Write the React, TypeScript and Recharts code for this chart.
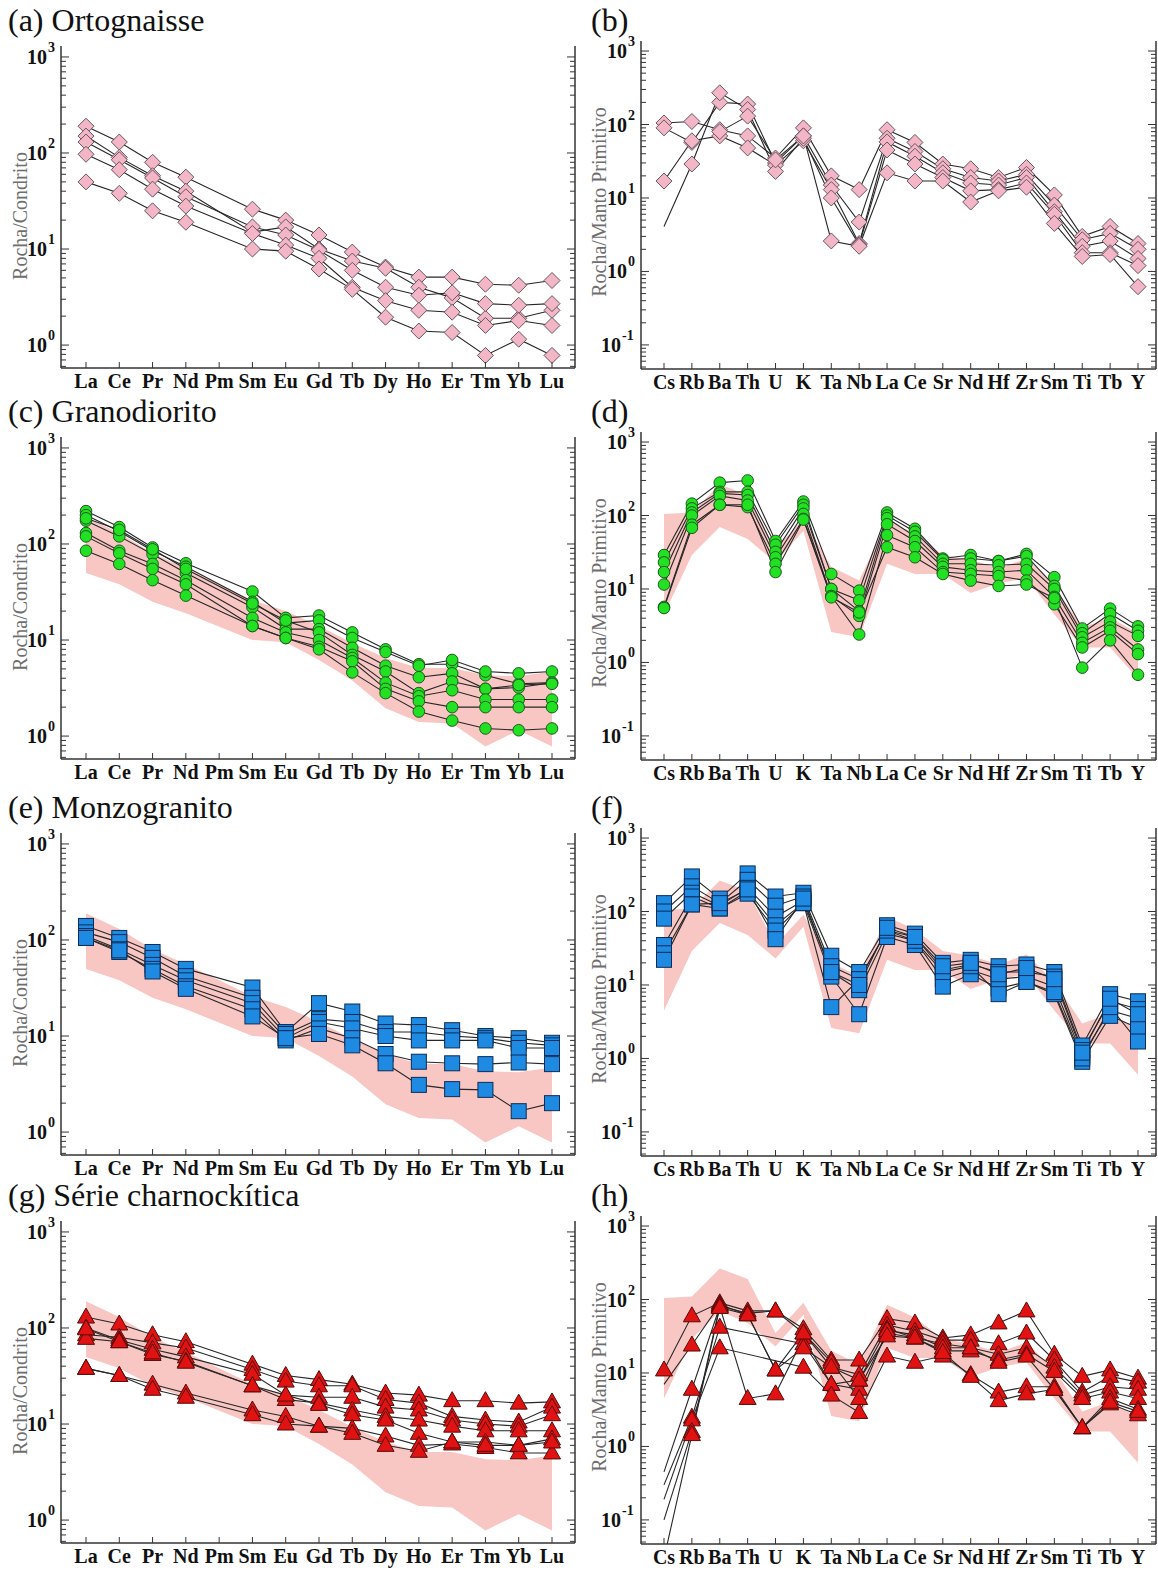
import React from 'react';
import { ComposedChart, Line, Area, XAxis, YAxis } from 'recharts';

const SERIF = "'Liberation Serif', 'Times New Roman', Times, serif";

const REE = ['La', 'Ce', 'Pr', 'Nd', 'Pm', 'Sm', 'Eu', 'Gd', 'Tb', 'Dy', 'Ho', 'Er', 'Tm', 'Yb', 'Lu'];
const SPIDER = ['Cs', 'Rb', 'Ba', 'Th', 'U', 'K', 'Ta', 'Nb', 'La', 'Ce', 'Sr', 'Nd', 'Hf', 'Zr', 'Sm', 'Ti', 'Tb', 'Y'];

const REE_TICKS = [0.6, 0.7, 0.8, 0.9, 1, 2, 3, 4, 5, 6, 7, 8, 9, 10, 20, 30, 40, 50, 60, 70, 80, 90, 100, 200, 300, 400, 500, 600, 700, 800, 900, 1000];
const SPIDER_TICKS = [0.05, 0.06, 0.07, 0.08, 0.09, 0.1, 0.2, 0.3, 0.4, 0.5, 0.6, 0.7, 0.8, 0.9, 1, 2, 3, 4, 5, 6, 7, 8, 9, 10, 20, 30, 40, 50, 60, 70, 80, 90, 100, 200, 300, 400, 500, 600, 700, 800, 900, 1000];

// pink field = range of the ortognaisse samples
const reeFieldHi = [190, 130, 80, 56, null, 26, 20, 14, 9.3, 6.5, 5.1, 5.1, 4.3, 4.2, 4.7];
const reeFieldLo = [50, 38, 25, 19, null, 10, 9.5, 6.2, 3.8, 1.95, 1.4, 1.35, 0.78, 1.15, 0.78];
const spiderFieldHi = [105, 110, 265, 190, 35, 90, 20, 13, 85, 57, 29, 25, 19, 26, 11, 3.0, 4.1, 2.5];
const spiderFieldLo = [4.5, 29, 70, 48, 23, 62, 2.6, 2.2, 22, 16, 16, 8.8, 12, 14, 4.5, 1.6, 1.6, 0.6];

// (a) Ortognaisse
const ortoREE = [
  [190, 130, 80, 56, null, 26, 20, 14, 9.3, 6.5, 5.1, 5.1, 4.3, 4.2, 4.7],
  [150, 90, 58, 40, null, 15, 17, 10, 7.5, 6.3, 4.0, 3.1, 1.9, 1.9, 2.3],
  [130, 85, 55, 35, null, 17, 14, 9.7, 6.0, 4.0, 3.3, 3.5, 2.7, 2.6, 2.7],
  [97, 67, 42, 28, null, 14.5, 11, 8.0, 4.0, 2.9, 2.3, 2.2, 1.6, 1.8, 1.6],
  [50, 38, 25, 19, null, 10, 9.5, 6.2, 3.8, 1.95, 1.4, 1.35, 0.78, 1.15, 0.78],
];

// (b)
const ortoSpider = [
  [105, 110, 85, 70, 35, 90, 20, 13, 85, 57, 29, 25, 19, 26, 11, 3.0, 4.1, 2.4],
  [90, 57, 200, 190, 30, 70, 15, 4.7, 65, 43, 25, 19, 17, 21, 8.0, 2.7, 3.3, 2.0],
  [17, 60, 70, 48, 28, 60, 13, 2.4, 58, 37, 22, 16, 15, 19, 6.5, 2.2, 2.6, 1.5],
  [4.1, 29, 270, 160, 23, 65, 10, 2.3, 45, 29, 19, 12.5, 13, 16, 6.0, 1.8, 1.8, 1.2],
  [null, null, 80, 130, 33, 70, 2.6, 2.2, 22, 17, 17, 8.8, 12.5, 14, 4.5, 1.6, 1.7, 0.62],
];
const ortoSpiderBare = [[], [], [], [0], []];

// (c) Granodiorito
const granoREE = [
  [220, 150, 92, 63, null, 32, 17, 18, 12, 8.0, 5.6, 5.6, 4.3, 3.5, 3.6],
  [200, 135, 85, 58, null, 25, 15, 16, 10.5, 7.5, 5.4, 6.2, 4.7, 4.5, 4.7],
  [175, 120, 78, 50, null, 22, 13, 13, 8.3, 5.4, 4.1, 4.5, 3.1, 3.2, 3.6],
  [185, 140, 88, 55, null, 24, 16, 12, 7.0, 4.7, 2.8, 3.7, 3.1, 3.4, 3.5],
  [130, 85, 62, 42, null, 17, 12, 10, 6.5, 3.6, 2.6, 3.0, 2.4, 2.4, 2.4],
  [120, 80, 55, 38, null, 14, 10.5, 8.5, 6.0, 3.1, 2.3, 2.0, 2.0, 2.0, 2.0],
  [85, 62, 42, 29, null, 14, 10.5, 8.0, 4.6, 2.8, 1.8, 1.45, 1.2, 1.15, 1.2],
];

// (d)
const granoSpider = [
  [29, 145, 280, 300, 45, 155, 16, 9.5, 110, 66, 26, 29, 24, 30, 14.5, 2.9, 5.4, 3.1],
  [23, 125, 210, 210, 40, 140, 10, 7.0, 100, 60, 25, 26, 24, 28, 11, 2.5, 4.6, 2.7],
  [17, 110, 200, 190, 32, 125, 10, 5.0, 92, 52, 22, 22, 21, 22, 10, 2.2, 3.6, 2.3],
  [11.5, 100, 185, 160, 27, 105, 8.0, 4.3, 76, 45, 20, 18, 17, 18, 7.8, 1.85, 3.0, 1.5],
  [5.7, 75, 140, 130, 22, 90, 8.0, 2.4, 54, 37, 17, 16, 15, 13, 6.2, 1.6, 2.7, 1.3],
  [5.5, 68, 140, 140, 17, 88, 7.7, 4.8, 37, 27, 16, 13, 11, 11.5, 7.5, 0.85, 2.0, 0.68],
];

// (e) Monzogranito
const monzoREE = [
  [140, 105, 75, 50, null, 32, 11, 22, 18, 13.5, 13, 11.5, 10, 9.5, 8.5],
  [120, 95, 65, 42, null, 25, 10.5, 15, 14, 11, 11, 10, 9.5, 8.5, 8],
  [110, 80, 55, 38, null, 22, 9.5, 14, 12, 10, 9, 9, 9, 7.5, 7.5],
  [105, 75, 50, 33, null, 19, 9, 12, 9.5, 6.5, 5.4, 5.2, 5.1, 5.3, 5.1],
  [105, 78, 47, 31, null, 16, 9.5, 10.5, 8, 5.2, 3.1, 2.8, 2.75, 1.65, 2.0],
];

// (f)
const monzoSpider = [
  [130, 300, 150, 330, 160, 180, 25, 15, 65, 50, 20, 22, 18, 19, 15, 1.5, 7.5, 6],
  [100, 220, 130, 270, 120, 160, 18, 12, 55, 45, 16, 19, 15, 15, 13, 1.3, 6, 4.7],
  [80, 180, 120, 210, 85, 140, 15, 8.5, 50, 40, 12, 16, 12, 13, 9.5, 1.1, 4.5, 3.5],
  [35, 160, 110, 190, 65, 130, 13, 4, 45, 35, 9.5, 14, 9, 11, 7.5, 0.9, 3.8, 2.6],
  [27, 125, 110, 175, 55, 130, 5, 12, 55, 40, 15, 18, 7.5, 11, 8, 1.0, 5, 1.7],
  [22, 125, 130, 200, 42, 150, 15, 10, 60, 45, 18, 20, 14, 17, 12, 1.2, 6.5, 4],
];

// (g) Série charnockítica
const charnoREE = [
  [130, 110, 85, 72, null, 42, 32, 29, 26, 21, 20, 17.5, 17.5, 16.5, 17],
  [85, 80, 70, 62, null, 37, 28, 25, 25, 18, 16.5, 12, 11, 10.5, 15],
  [100, 75, 60, 50, null, 33, 20, 19, 19, 15, 14, 11, 10, 9.5, 12.5],
  [78, 72, 53, 45, null, 25, 18, 16.5, 14, 12, 11, 9.5, 8.5, 8.5, 8.5],
  [98, 72, 55, 44, null, 25, 20, 16, 12.5, 11, 8, 6.5, 6.5, 6, 7],
  [38, 32, 26, 21, null, 14, 12, 9.5, 9, 7.5, 6, 6.2, 5.7, 5, 5],
  [38, 32, 23, 19, null, 12.5, 10, 9.5, 8, 6, 5.2, 6.5, 6, 6, 6.5],
];

// (h)
const charnoSpider = [
  [11, 60, 90, 70, 70, 40, 15, 15, 55, 48, 30, 33, 48, 70, 18, 9, 11, 8.5],
  [7, 24, 85, 62, 11, 35, 12, 9.5, 45, 37, 28, 28, 25, 35, 15, 5.5, 9, 7.5],
  [0.45, 6, 80, 4.5, 5.2, 30, 7, 8, 40, 30, 25, 22, 18, 22, 12, 5, 6.5, 6],
  [0.3, 2.5, 42, null, null, 25, 7, 6, 35, 30, 20, 20, 15, 18, 10.5, 4.5, 5.5, 4.5],
  [0.19, 2.3, 22, null, null, 12, 5, 2.9, 17, 14, 17, 9.5, 5.5, 6.5, 6.5, 1.8, 4.5, 3.2],
  [0.1, 1.6, 82, 65, 70, 35, 14, 4.5, 38, 33, 22, 22, 14, 17, 6, 1.8, 3.8, 2.7],
  [0.03, 1.45, 78, 62, 11, 22, 12, 8, 32, 30, 19, 9, 4.2, 5.2, 6, 1.8, 4, 3],
];
const charnoSpiderBare = [[], [0], [0], [0], [0], [0], [0]];

const PANEL_W = 579;
const PANEL_H = 393;
const ROW_TOPS = [2, 393, 789, 1177];
const AXIS = '#333';

const GEOM: any = {
  ree: { left: 61, right: 4, top: 44, bottom: 366, padL: 25, padR: 23, domain: [0.577, 1300], ticks: REE_TICKS, yTitle: 'Rocha/Condrito', titleY: 214 },
  spider: { left: 62, right: 2, top: 39, bottom: 367, padL: 23, padR: 18, domain: [0.047, 1370], ticks: SPIDER_TICKS, yTitle: 'Rocha/Manto Primitivo', titleY: 200 },
};

function isDecade(v: number) {
  const l = Math.log10(v);
  return Math.abs(l - Math.round(l)) < 1e-6;
}

function LeftTick(props: any) {
  const { x, y, payload } = props;
  const v = payload.value;
  const major = isDecade(v);
  const exp = Math.round(Math.log10(v));
  return (
    <g>
      <line x1={x} x2={x + (major ? 8 : 5)} y1={y} y2={y} stroke={AXIS} strokeWidth={1} />
      {major && (
        <text x={exp < 0 ? x - 20 : x - 14} y={y + 7} textAnchor="end" fontFamily={SERIF} fontWeight="bold" fontSize={20} fill="#111">10</text>
      )}
      {major && (
        <text x={exp < 0 ? x - 19 : x - 13} y={y - 5} fontFamily={SERIF} fontWeight="bold" fontSize={14} fill="#111">{exp}</text>
      )}
    </g>
  );
}

function RightTick(props: any) {
  const { x, y, payload } = props;
  const major = isDecade(payload.value);
  return <line x1={x} x2={x - (major ? 8 : 5)} y1={y} y2={y} stroke={AXIS} strokeWidth={1} />;
}

function BottomTick(props: any) {
  const { x, y, payload } = props;
  return (
    <g>
      <line x1={x} x2={x} y1={y} y2={y - 6} stroke={AXIS} strokeWidth={1} />
      <text x={x} y={y + 20} textAnchor="middle" fontFamily={SERIF} fontWeight="bold" fontSize={20} fill="#111">{payload.value}</text>
    </g>
  );
}

function Marker({ shape, cx, cy, fill, stroke }: any) {
  if (shape === 'diamond') {
    return <polygon points={`${cx},${cy - 8} ${cx + 8},${cy} ${cx},${cy + 8} ${cx - 8},${cy}`} fill={fill} stroke={stroke} strokeWidth={1} />;
  }
  if (shape === 'circle') {
    return <circle cx={cx} cy={cy} r={5.8} fill={fill} stroke={stroke} strokeWidth={1} />;
  }
  if (shape === 'square') {
    return <rect x={cx - 7.5} y={cy - 7.5} width={15} height={15} fill={fill} stroke={stroke} strokeWidth={1} />;
  }
  return <polygon points={`${cx},${cy - 9} ${cx + 8.5},${cy + 6} ${cx - 8.5},${cy + 6}`} fill={fill} stroke={stroke} strokeWidth={1} />;
}

function makeDot(shape: string, fill: string, stroke: string, hidden: number[]) {
  return (p: any) => {
    const { cx, cy, index } = p;
    const key = `dot-${index}`;
    if (cx == null || cy == null || Number.isNaN(cx) || Number.isNaN(cy) || p.value == null || hidden.includes(index)) {
      return <g key={key} />;
    }
    return <Marker key={key} shape={shape} cx={cx} cy={cy} fill={fill} stroke={stroke} />;
  };
}

interface PanelProps {
  title: string;
  kind: 'ree' | 'spider';
  samples: (number | null)[][];
  bare?: number[][];
  withField?: boolean;
  shape: string;
  fill: string;
  stroke: string;
  col: number;
  row: number;
}

function Panel({ title, kind, samples, bare, withField, shape, fill, stroke, col, row }: PanelProps) {
  const g = GEOM[kind];
  const cats = kind === 'ree' ? REE : SPIDER;
  const hi = kind === 'ree' ? reeFieldHi : spiderFieldHi;
  const lo = kind === 'ree' ? reeFieldLo : spiderFieldLo;

  const data = cats.map((el, i) => {
    const r: any = { el };
    samples.forEach((s, k) => {
      r[`s${k}`] = s[i];
    });
    r.field = lo[i] == null ? null : [lo[i], hi[i]];
    return r;
  });

  const axisLine = { stroke: AXIS, strokeWidth: 1.5 };

  return (
    <div style={{ position: 'absolute', left: col * PANEL_W, top: ROW_TOPS[row], width: PANEL_W, height: PANEL_H }}>
      <ComposedChart width={PANEL_W} height={PANEL_H} data={data} margin={{ top: g.top, right: 0, bottom: 0, left: 0 }}>
        <XAxis
          dataKey="el"
          type="category"
          scale="point"
          padding={{ left: g.padL, right: g.padR }}
          height={PANEL_H - g.bottom}
          interval={0}
          tickSize={0}
          tickMargin={0}
          tickLine={false}
          axisLine={axisLine}
          tick={(p: any) => <BottomTick {...p} />}
        />
        <XAxis xAxisId="top" dataKey="el" type="category" scale="point" orientation="top" height={0} tick={false} tickLine={false} axisLine={axisLine} />
        <YAxis
          yAxisId="l"
          type="number"
          scale="log"
          domain={g.domain}
          allowDataOverflow
          ticks={g.ticks}
          interval={0}
          width={g.left}
          tickSize={0}
          tickMargin={0}
          tickLine={false}
          axisLine={axisLine}
          tick={(p: any) => <LeftTick {...p} />}
        />
        <YAxis
          yAxisId="r"
          orientation="right"
          type="number"
          scale="log"
          domain={g.domain}
          allowDataOverflow
          ticks={g.ticks}
          interval={0}
          width={g.right}
          tickSize={0}
          tickMargin={0}
          tickLine={false}
          axisLine={axisLine}
          tick={(p: any) => <RightTick {...p} />}
        />
        {withField && (
          <Area
            yAxisId="l"
            type="linear"
            dataKey="field"
            stroke="none"
            fill="#F8C6C3"
            fillOpacity={1}
            connectNulls
            dot={false}
            activeDot={false}
            isAnimationActive={false}
          />
        )}
        {samples.map((_, k) => (
          <Line
            key={k}
            yAxisId="l"
            type="linear"
            dataKey={`s${k}`}
            stroke="#262626"
            strokeWidth={1.1}
            connectNulls
            dot={makeDot(shape, fill, stroke, bare ? bare[k] : [])}
            activeDot={false}
            isAnimationActive={false}
          />
        ))}
      </ComposedChart>
      <div
        style={{
          position: 'absolute',
          left: col ? 12 : 8,
          top: 4,
          fontFamily: SERIF,
          fontSize: 32,
          lineHeight: '28px',
          color: '#111',
          whiteSpace: 'nowrap',
        }}
      >
        {title}
      </div>
      <div
        style={{
          position: 'absolute',
          left: 20,
          top: g.titleY,
          transform: 'translate(-50%, -50%) rotate(-90deg)',
          fontFamily: SERIF,
          fontSize: 20,
          color: '#6e6e6e',
          whiteSpace: 'nowrap',
        }}
      >
        {g.yTitle}
      </div>
    </div>
  );
}

const PINK = { fill: '#F3B6C7', stroke: '#6a5560' };
const GREEN = { fill: '#22E022', stroke: '#1d5a1d' };
const BLUE = { fill: '#1E8AE2', stroke: '#0c2d58' };
const RED = { fill: '#E01212', stroke: '#5a0a0a' };

export default function App() {
  return (
    <div style={{ position: 'relative', width: 1158, height: 1573, background: '#fff', overflow: 'hidden' }}>
      <style>{'body{margin:0}'}</style>
      <Panel title="(a) Ortognaisse" kind="ree" samples={ortoREE} shape="diamond" {...PINK} col={0} row={0} />
      <Panel title="(b)" kind="spider" samples={ortoSpider} bare={ortoSpiderBare} shape="diamond" {...PINK} col={1} row={0} />
      <Panel title="(c) Granodiorito" kind="ree" samples={granoREE} withField shape="circle" {...GREEN} col={0} row={1} />
      <Panel title="(d)" kind="spider" samples={granoSpider} withField shape="circle" {...GREEN} col={1} row={1} />
      <Panel title="(e) Monzogranito" kind="ree" samples={monzoREE} withField shape="square" {...BLUE} col={0} row={2} />
      <Panel title="(f)" kind="spider" samples={monzoSpider} withField shape="square" {...BLUE} col={1} row={2} />
      <Panel title="(g) Série charnockítica" kind="ree" samples={charnoREE} withField shape="triangle" {...RED} col={0} row={3} />
      <Panel title="(h)" kind="spider" samples={charnoSpider} bare={charnoSpiderBare} withField shape="triangle" {...RED} col={1} row={3} />
    </div>
  );
}
